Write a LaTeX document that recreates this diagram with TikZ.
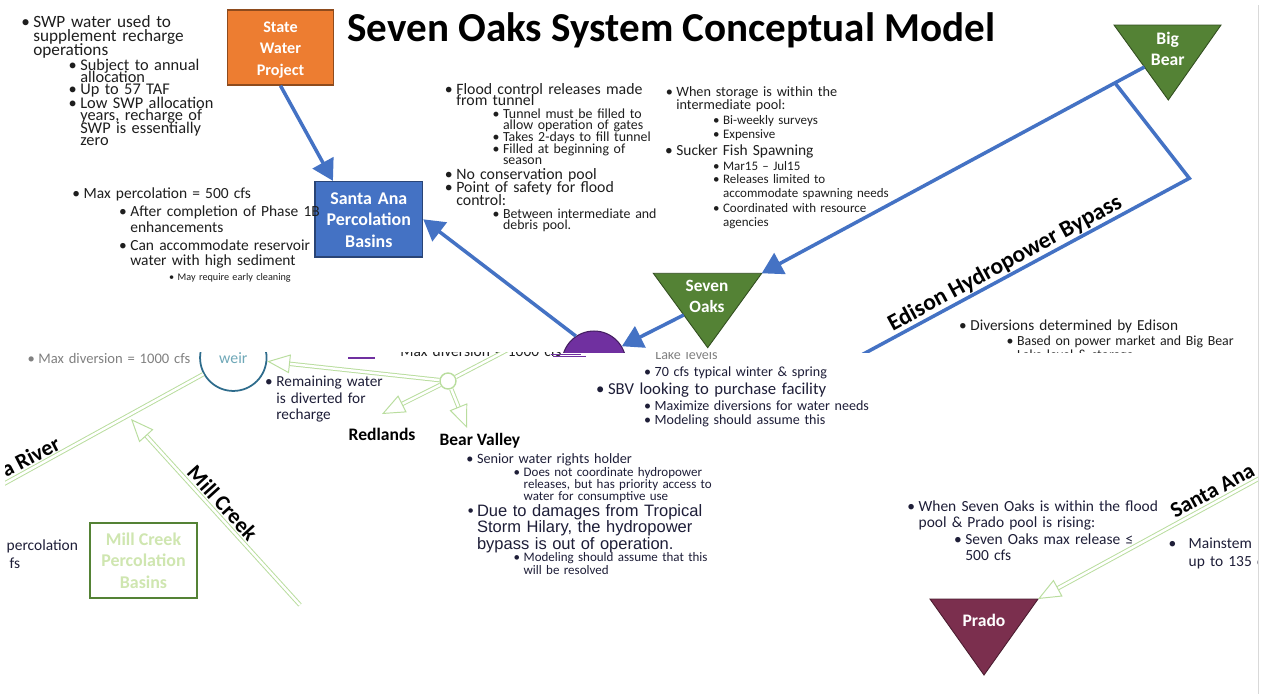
\documentclass[tikz,border=0pt]{standalone}
\usepackage{fontspec}
\setmainfont{Carlito}
\newfontfamily\arialfont{Liberation Sans}
\usepackage{xcolor}
\usepackage{tikz}
\usetikzlibrary{calc}
\usetikzlibrary{arrows.meta}
\definecolor{ink}{HTML}{1E1E1E}
\definecolor{inkb}{HTML}{1E1E38}
\definecolor{swporange}{HTML}{ED7D31}
\definecolor{flowblue}{HTML}{4472C4}
\definecolor{damgreen}{HTML}{548235}
\definecolor{pumppurple}{HTML}{7030A0}
\definecolor{pradored}{HTML}{7B2F4E}
\definecolor{ghost}{HTML}{B9DD9E}
\definecolor{weirblue}{HTML}{2E6C8C}
\definecolor{weirtext}{HTML}{6FA8B8}
\definecolor{mcgreen}{HTML}{CFE6B0}
\newcommand\fsz[2]{\fontsize{#1}{#2}\selectfont\lineskiplimit=-20pt\relax}
\def\bul{\llap{\textbullet\hspace{2pt}}}
\lineskiplimit=-20pt

\begin{document}
\begin{tikzpicture}[x=0.02cm,y=-0.02cm,
	txt/.style={anchor=base west,inner sep=0,align=left,text width=9cm,text=ink},
	txtb/.style={txt,text=inkb},
	lbl/.style={anchor=base,inner sep=0,align=center,text width=3cm,text=white,font=\bfseries\fsz{10}{12.1}},
	box/.style={draw=#1!60!black,fill=#1,line width=0.8pt,inner sep=0,minimum width=2.14cm,minimum height=1.5cm},
	flow/.style={flowblue,line width=2pt,-{Triangle[length=11.8pt,width=13.3pt]}},
	pipe/.style={flowblue,line width=2pt},
	ghost/.style={draw=ghost,double=white,double distance=1.4pt,line width=0.55pt},
	ghostarr/.style={ghost,-{Triangle[open,length=13pt,width=10.7pt]}},
	river/.style={anchor=base,inner sep=0,text=black,font=\bfseries\fsz{12.5}{15}}
	]
	\useasboundingbox (0,0) rectangle (1270,694);
	\fill[white] (0,0) rectangle (1270,694);
	\begin{scope}
		\clip (0,0) rectangle (1258,352.5);
		\node[anchor=base west,inner sep=0,text=black,font=\bfseries\fsz{23.4}{28}] (title) at (347,41.7) {Seven Oaks System Conceptual Model};
		\node[txt,font=\fsz{9.8}{8.1}] (swpA) at (33,27.3) {\bul SWP water used to\\supplement recharge\\operations};
		\node[txt,font=\fsz{9.3}{7.1}] (swpA1) at (80,70) {\bul Subject to annual\\allocation};
		\node[txt,font=\fsz{9.3}{7.1}] (swpA2) at (80,94.3) {\bul Up to 57 TAF};
		\node[txt,font=\fsz{9.3}{7.1}] (swpA3) at (80,108.3) {\bul Low SWP allocation\\years, recharge of\\SWP is essentially\\zero};
		\node[box=swporange,minimum width=2.12cm] (swp) at (280.5,47.5) {};
		\node[lbl,font=\bfseries\fsz{9.2}{12.3}] (swpt) at (280.5,32) {State\\Water\\Project};
		\node[box=flowblue,minimum width=2.15cm,minimum height=1.51cm] (sapb) at (368.8,219.3) {};
		\node[lbl,font=\bfseries\fsz{10.2}{12.1}] (sapbt) at (368.8,204.5) {Santa Ana\\Percolation\\Basins};
		\node[txt,font=\fsz{8.8}{9.5}] (mpA) at (83.3,198.3) {\bul Max percolation = 500 cfs};
		\node[txt,font=\fsz{8.8}{9.2}] (mpA1) at (130,216.7) {\bul After completion of Phase 1B\\enhancements};
		\node[txt,font=\fsz{8.8}{8.6}] (mpA2) at (130,250) {\bul Can accommodate reservoir\\water with high sediment};
		\node[txt,font=\fsz{5.8}{7}] (mpA3) at (177.3,280) {\bul May require early cleaning};
		\node[txt,font=\fsz{9}{6.6}] (fcA) at (456,94.3) {\bul Flood control releases made\\from tunnel};
		\node[txt,font=\fsz{7.9}{6.6}] (fcA1) at (502.7,118.3) {\bul Tunnel must be filled to\\allow operation of gates};
		\node[txt,font=\fsz{7.9}{6.6}] (fcA2) at (502.7,141.7) {\bul Takes 2-days to fill tunnel};
		\node[txt,font=\fsz{7.9}{6.3}] (fcA3) at (502.7,153.3) {\bul Filled at beginning of\\season};
		\node[txt,font=\fsz{9}{7}] (fcB) at (456,179.3) {\bul No conservation pool};
		\node[txt,font=\fsz{9}{7}] (fcC) at (456,192.7) {\bul Point of safety for flood\\control:};
		\node[txt,font=\fsz{7.9}{6.2}] (fcC1) at (502.7,218.3) {\bul Between intermediate and\\debris pool.};
		\node[txt,font=\fsz{8.1}{7.9}] (stA) at (676,96) {\bul When storage is within the\\intermediate pool:};
		\node[txt,font=\fsz{7.4}{8}] (stA1) at (722.7,124.3) {\bul Bi-weekly surveys};
		\node[txt,font=\fsz{7.4}{8}] (stA2) at (722.7,138.3) {\bul Expensive};
		\node[txt,font=\fsz{8.8}{8}] (stB) at (676,155) {\bul Sucker Fish Spawning};
		\node[txt,font=\fsz{7.4}{8}] (stB1) at (722.7,170) {\bul Mar15 – Jul15};
		\node[txt,font=\fsz{7.4}{8.3}] (stB2) at (722.7,183.3) {\bul Releases limited to\\accommodate spawning needs};
		\node[txt,font=\fsz{7.4}{8}] (stB3) at (722.7,212.7) {\bul Coordinated with resource\\agencies};
		\node[txt,font=\fsz{8.7}{9}] (edA) at (970,330) {\bul Diversions determined by Edison};
		\node[txt,font=\fsz{7.9}{8.5}] (edA1) at (1016.7,345) {\bul Based on power market and Big Bear\\Lake level \& storage};
		\coordinate (bbL) at (1114,25);
		\coordinate (bbR) at (1221,25);
		\coordinate (bbB) at (1168.3,100);
		\filldraw[fill=damgreen,draw=damgreen!60!black,line width=0.5pt] (bbL) -- (bbR) -- (bbB) -- cycle;
		\node[lbl] (bigbear) at (1167.7,44.3) {Big\\Bear};
		\coordinate (soL) at (653.3,273.3);
		\coordinate (soR) at (761.7,273.3);
		\coordinate (soB) at (707.7,347.7);
		\filldraw[fill=damgreen,draw=damgreen!60!black,line width=0.5pt] (soL) -- (soR) -- (soB) -- cycle;
		\node[lbl,font=\bfseries\fsz{9.8}{12.1}] (sevenoaks) at (707,291) {Seven\\Oaks};
		\node[circle,fill=pumppurple,draw=pumppurple!60!black,line width=0.6pt,minimum size=1.28cm,inner sep=0] (pump) at (594,363) {};
		\draw[flow] (swp.south) -- (sapb.133);
		\draw[flow] (pump.124) -- (sapb.east);
		\draw[flow] ($(soL)!0.56!(soB)$) -- (pump.31);
		\coordinate (bbS) at ($(bbL)!0.56!(bbB)$);
		\draw[flow] (bbS) -- (soR);
		\coordinate (bpA) at ($(bbS)!0.077!(soR)$);
		\coordinate (bpB) at (1189.3,178.3);
		\draw[pipe,line join=miter] (bpA) -- (bpB) -- ($(bpB)+(soR)-(bbS)$);
		\node[anchor=base,inner sep=0,rotate=28.4,font=\bfseries\fsz{13.3}{16}] (bypass) at (1008,269) {Edison Hydropower Bypass};
	\end{scope}
	\begin{scope}
		\clip (5,352.5) rectangle (1258,694);
		\node[circle,draw=weirblue,line width=1pt,fill=white,minimum size=1.33cm,inner sep=0,text=weirtext,font=\fsz{9}{10}] (weir) at (233.3,357.7) {\raisebox{-5pt}{weir}};
		\node[txt,text=gray,font=\fsz{8.3}{9}] (mdA) at (38,363) {\bul Max diversion = 1000 cfs};
		\node[txt,font=\fsz{8.8}{9}] (mdB) at (400,356) {Max diversion = 1000 cfs};
		\node[txt,text=gray,font=\fsz{8}{9}] (llA) at (655,359.5) {Lake levels};
		\draw[pumppurple,line width=0.8pt] (551,354.3) -- (581,354.3);
		\draw[pumppurple,line width=0.8pt] (553,356.6) -- (586,356.6);
		\draw[pumppurple,line width=0.8pt] (348,358) -- (375,358);
		\coordinate (sarW) at (0,486);
		\draw[ghost] (sarW) -- (weir);
		\coordinate (mcS) at (300,605);
		\coordinate (mcT) at (131,419);
		\draw[ghostarr] (mcS) -- (mcT);
		\node[circle,draw=ghost,line width=0.8pt,fill=white,minimum size=0.32cm,inner sep=0] (jn) at (448,381) {};
		\coordinate (pumpS) at (515,346);
		\draw[ghost] (pumpS) -- (jn);
		\draw[ghostarr] (jn) -- (weir);
		\coordinate (redTip) at (382,414);
		\draw[ghostarr] (jn) -- (redTip);
		\coordinate (bvTip) at (467,428);
		\draw[ghostarr] (jn) -- (bvTip);
		\coordinate (prL) at (930,599);
		\coordinate (prR) at (1038,599);
		\coordinate (prB) at (984,675);
		\filldraw[fill=pradored,draw=pradored!60!black,line width=0.5pt] (prL) -- (prR) -- (prB) -- cycle;
		\node[lbl] (prado) at (984,626.7) {Prado};
		\coordinate (sarE) at (1275,469.8);
		\draw[ghostarr] (sarE) -- (prR);
		\node[river,anchor=base east,rotate=27.3] (sarup) at (62,449) {a River};
		\node[river,anchor=base west,rotate=28.6] (sarlow) at (1175,519) {Santa Ana};
		\node[river,rotate=-47.7] (mcl) at (217,508) {Mill Creek};
		\node[draw=damgreen,line width=0.9pt,minimum width=2.14cm,minimum height=1.5cm,inner sep=0,align=center,text=mcgreen,font=\bfseries\fsz{10.2}{12.3}] (mcpb) at (143.5,560.5) {Mill Creek\\Percolation\\Basins};
		\node[anchor=base east,inner sep=0,text=inkb,font=\fsz{8.8}{9}] (pcA) at (78.3,550) {percolation};
		\node[anchor=base east,inner sep=0,text=inkb,font=\fsz{8.8}{9}] (pcB) at (20.5,568.3) {fs};
		\node[txtb,font=\fsz{8.7}{9.4}] (rwA) at (276,386.7) {\bul Remaining water\\is diverted for\\recharge};
		\node[anchor=base west,inner sep=0,text=black,font=\bfseries\fsz{10}{12}] (redl) at (348.3,440) {Redlands};
		\node[anchor=base west,inner sep=0,text=black,font=\bfseries\fsz{9.9}{12}] (bvl) at (439.3,445) {Bear Valley};
		\node[txtb,font=\fsz{8}{8}] (sbA0) at (654.3,376.7) {\bul 70 cfs typical winter \& spring};
		\node[txtb,font=\fsz{9.5}{9}] (sbA) at (607.7,394) {\bul SBV looking to purchase facility};
		\node[txtb,font=\fsz{8}{8}] (sbA1) at (654.3,410) {\bul Maximize diversions for water needs};
		\node[txtb,font=\fsz{8}{8}] (sbA2) at (654.3,424.3) {\bul Modeling should assume this};
		\node[txtb,font=\fsz{8.1}{8}] (bvA) at (476.7,463.3) {\bul Senior water rights holder};
		\node[txtb,font=\fsz{7.4}{6.9}] (bvA1) at (523.3,476.7) {\bul Does not coordinate hydropower\\releases, but has priority access to\\water for consumptive use};
		\node[txtb,font=\arialfont\fsz{9.4}{9.2}] (bvB) at (476.7,516.7) {\bul Due to damages from Tropical\\Storm Hilary, the hydropower\\bypass is out of operation.};
		\node[txtb,font=\fsz{7.4}{7.5}] (bvB1) at (523.3,561.7) {\bul Modeling should assume that this\\will be resolved};
		\node[txtb,font=\fsz{8.8}{9.1}] (poA) at (918.3,511.7) {\bul When Seven Oaks is within the flood\\pool \& Prado pool is rising:};
		\node[txtb,font=\fsz{8.8}{9.3}] (poA1) at (965,544.3) {\bul Seven Oaks max release ≤\\500 cfs};
		\node[txtb,font=\fsz{8.8}{10.2}] (msA) at (1188.3,548.3) {\llap{\textbullet\hspace{7pt}}Mainstem p\\up to 135 c};
	\end{scope}
	\draw[black!15,line width=0.6pt] (1258.7,5) -- (1258.7,694);
\end{tikzpicture}
\end{document}
